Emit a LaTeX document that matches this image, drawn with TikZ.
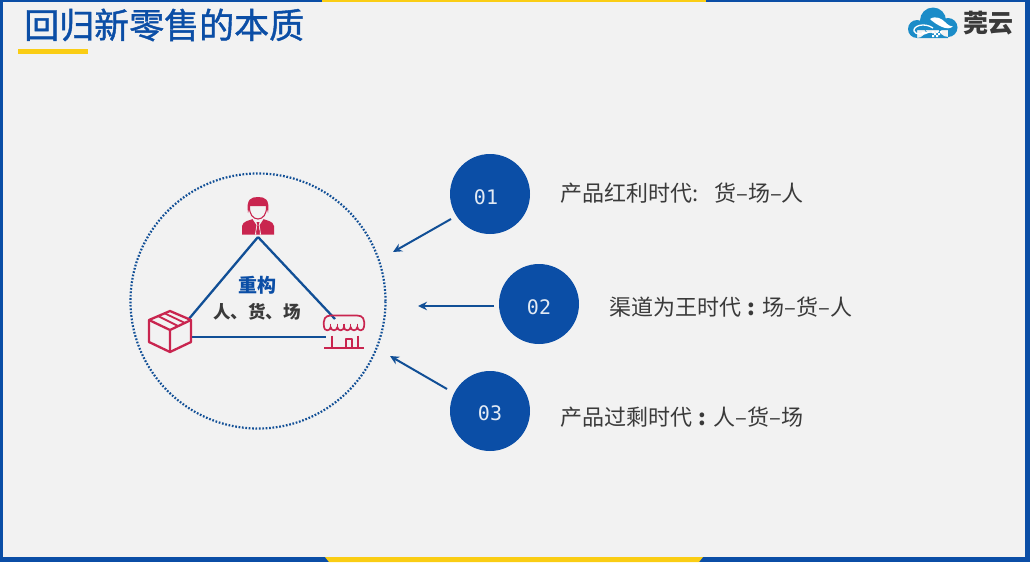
\documentclass[tikz,border=0pt]{standalone}
\usepackage{fontspec}
\newfontfamily\cjk{Noto Sans CJK SC}
\newfontfamily\cjkheavy[FakeBold=1.2]{Noto Sans CJK SC}
\newfontfamily\monof{DejaVu Sans Mono}
\usetikzlibrary{arrows.meta}
\definecolor{bg}{HTML}{F2F2F2}
\definecolor{navy}{HTML}{0B4EA6}
\definecolor{gold}{HTML}{FACD14}
\definecolor{ruby}{HTML}{C9254F}
\definecolor{edge}{HTML}{114F96}
\definecolor{ink}{HTML}{3A3A3A}
\definecolor{cloudc}{HTML}{1B8CC8}
\tikzset{
  x=1pt,y=-1pt,
  numdisc/.style={circle,fill=navy,minimum size=80pt,inner sep=0pt},
  numtext/.style={font=\monof\fontsize{20}{20}\selectfont,text=white!88!navy,inner sep=0pt},
  linetext/.style={font=\cjk\fontsize{22}{24}\selectfont,text=ink,anchor=west,inner sep=0pt},
  tri/.style={draw=edge,line width=2.3pt},
  pointer/.style={draw=edge,line width=2pt,-{Stealth[length=9pt,width=8.5pt]}},
  icon/.style={draw=ruby,line width=1.7pt,line join=round},
}
\begin{document}
\begin{tikzpicture}
\useasboundingbox (0,0) rectangle (1030,562);
\fill[bg] (0,0) rectangle (1030,562);
% frame
\fill[navy] (0,0) rectangle (3,562);
\fill[navy] (1025,0) rectangle (1030,562);
\fill[navy] (0,0) rectangle (1030,1.5);
\fill[navy] (0,557) rectangle (1030,562);
\fill[gold] (322,0) rectangle (706,1.5);
\fill[gold] (325,557) -- (703,557) -- (699,562) -- (329,562) -- cycle;
% title
\node[font=\cjkheavy\fontsize{35}{36}\selectfont,text=navy,anchor=west,inner sep=0pt] (title) at (24,25) {回归新零售的本质};
\fill[gold] (18,49) rectangle (88,54);
% logo
\fill[cloudc] (917,29) circle[radius=9] (933,20.5) circle[radius=13] (948,27.5) circle[radius=9.5] (917,30) rectangle (948,38);
\fill[white] (930,19) .. controls (936,15) and (942,19) .. (945,22) .. controls (948,25) and (951,27) .. (953,26) .. controls (951,29) and (946,29) .. (941,26.5) .. controls (937,24.5) and (933,22) .. (930,19) -- cycle;
\draw[white,line width=1.3pt] (933,28) .. controls (924,22) and (913,26) .. (914,31) .. controls (915,35) and (924,35) .. (928,32.5) -- (922,32.5);
\fill[white] (932,31) rectangle (934,33) (936,31) rectangle (938,33) (940,31) rectangle (942,33) (934,33) rectangle (936,35) (938,33) rectangle (940,35) (932,35) rectangle (934,37) (936,35) rectangle (938,37);
% brand
\node[font=\cjk\bfseries\fontsize{25}{26}\selectfont,text=ink,anchor=west,inner sep=0pt] (brand) at (963,23) {莞云};
% dotted ring
\node[circle,draw=edge,line width=2.2pt,dash pattern=on 1.7pt off 1.7pt,minimum size=255pt,inner sep=0pt] (ring) at (258,301) {};
% triangle anchors
\coordinate (apex) at (258,237);
\coordinate (boxtop) at (188,320);
\coordinate (boxside) at (191,337);
\coordinate (shoptop) at (335,319);
\coordinate (shopside) at (326,337);
\draw[tri] (apex) -- (boxtop);
\draw[tri] (apex) -- (shoptop);
\draw[tri] (boxside) -- (shopside);
% person
\fill[ruby] (242,234.5) -- (242,226) .. controls (243,221) and (249,220.5) .. (253,219) -- (263,219) .. controls (267,220.5) and (273,221) .. (274,226) -- (274,234.5) -- cycle;
\fill[bg] (252.5,219) -- (263.5,219) -- (259.5,225) -- (261,234.5) -- (260,234.5) -- (258.5,226) -- (257.5,226) -- (256,234.5) -- (255,234.5) -- (256.5,225) -- cycle;
\fill[ruby] (256.5,222) -- (259.5,222) -- (258.6,225) -- (259.8,232) -- (258,234.5) -- (256.2,232) -- (257.4,225) -- cycle;
\fill[ruby] (248,213) .. controls (246,199) and (251,197) .. (258,197) .. controls (265,197) and (270,199) .. (268,213) -- (266.3,206) -- (250,206) -- cycle;
\draw[ruby,line width=1.1pt] (249.5,206) .. controls (249,214) and (253,219) .. (258,219) .. controls (263,219) and (267,214) .. (266.5,206);
% box
\draw[icon,line width=2.3pt] (170,311) -- (191,320) -- (191,342) -- (170,352) -- (149,342) -- (149,320) -- cycle;
\draw[icon,line width=2.3pt] (149,320) -- (170,330) -- (191,320) (170,330) -- (170,352);
\draw[icon,line width=1.8pt] (158,316) -- (178,326) (165,313.5) -- (185,323);
% shop
\draw[icon] (324,327) .. controls (323,319) and (325,315.5) .. (331,315.5) -- (357,315.5) .. controls (363,315.5) and (365,319) .. (364,327);
\draw[icon] (324,327) arc[start angle=180,end angle=0,radius=3.33] arc[start angle=180,end angle=0,radius=3.33] arc[start angle=180,end angle=0,radius=3.33] arc[start angle=180,end angle=0,radius=3.33] arc[start angle=180,end angle=0,radius=3.33] arc[start angle=180,end angle=0,radius=3.33];
\draw[icon,line width=1.2pt] (330.7,323.5) -- (330.7,327) (337.3,323.5) -- (337.3,327) (344,323.5) -- (344,327) (350.7,323.5) -- (350.7,327) (357.3,323.5) -- (357.3,327);
\draw[icon] (324,348) -- (364,348);
\draw[icon] (332,335.5) -- (332,348) (358,335.5) -- (358,348);
\draw[icon] (346,348) -- (346,339) -- (352,339) -- (352,348);
% centre labels
\node[font=\cjk\bfseries\fontsize{19}{20}\selectfont,text=navy,inner sep=0pt] (rebuild) at (257,285) {重构};
\node[font=\cjk\bfseries\fontsize{17.5}{20}\selectfont,text=ink,inner sep=0pt] (trio) at (257,312) {人、货、场};
% discs
\node[numdisc] (d1) at (490,194) {};
\node[numdisc] (d2) at (539,304) {};
\node[numdisc] (d3) at (490,411) {};
\node[numtext] (n1) at (486,197) {01};
\node[numtext] (n2) at (539,307) {02};
\node[numtext] (n3) at (490,413) {03};
% arrows
\coordinate (t1) at (393,252);
\coordinate (t2) at (418,306);
\coordinate (t3) at (390,356);
\draw[pointer] (451,219) -- (t1);
\draw[pointer] (494,306) -- (t2);
\draw[pointer] (447,389) -- (t3);
% texts
\node[linetext] (l1) at (560,193) {产品红利时代:\kern16pt 货–场–人};
\node[linetext] (l2) at (609,307) {渠道为王时代\kern6pt\textbf{:}\kern8pt 场–货–人};
\node[linetext] (l3) at (560,417) {产品过剩时代\kern6pt\textbf{:}\kern8pt 人–货–场};
\end{tikzpicture}
\end{document}
